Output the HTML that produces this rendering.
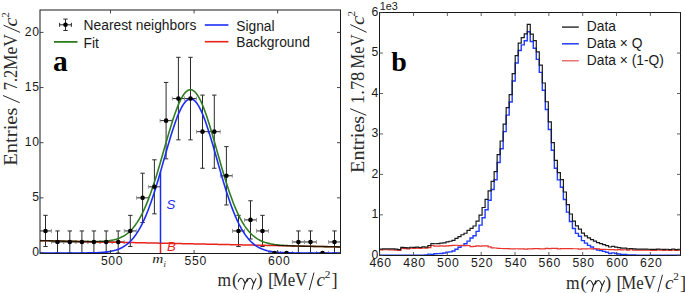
<!DOCTYPE html>
<html><head><meta charset="utf-8"><style>
html,body{margin:0;padding:0;background:#fff;width:685px;height:293px;overflow:hidden;}
body{position:relative;font-family:"Liberation Sans", sans-serif;}
</style></head><body>
<svg width="685" height="293" viewBox="0 0 685 293" style="position:absolute;left:0;top:0">
<defs><clipPath id="cl"><rect x="40.0" y="10.0" width="300.5" height="243.5"/></clipPath>
<clipPath id="cr"><rect x="379.5" y="12.5" width="301.0" height="243.0"/></clipPath></defs>
<g clip-path="url(#cl)" stroke="#2a2a2a" stroke-width="1" fill="none">
<line x1="39.50" y1="230.94" x2="51.50" y2="230.94"/>
<line x1="39.50" y1="228.94" x2="39.50" y2="232.94" stroke="#888" stroke-width="0.8"/>
<line x1="51.50" y1="228.94" x2="51.50" y2="232.94" stroke="#888" stroke-width="0.8"/>
<line x1="45.50" y1="215.34" x2="45.50" y2="246.54"/>
<line x1="43.30" y1="215.34" x2="47.70" y2="215.34"/>
<line x1="43.30" y1="246.54" x2="47.70" y2="246.54"/>
<line x1="51.50" y1="241.97" x2="63.50" y2="241.97"/>
<line x1="51.50" y1="239.97" x2="51.50" y2="243.97" stroke="#888" stroke-width="0.8"/>
<line x1="63.50" y1="239.97" x2="63.50" y2="243.97" stroke="#888" stroke-width="0.8"/>
<line x1="57.50" y1="230.94" x2="57.50" y2="253.00"/>
<line x1="55.30" y1="230.94" x2="59.70" y2="230.94"/>
<line x1="55.30" y1="253.00" x2="59.70" y2="253.00"/>
<line x1="63.80" y1="241.97" x2="75.80" y2="241.97"/>
<line x1="63.80" y1="239.97" x2="63.80" y2="243.97" stroke="#888" stroke-width="0.8"/>
<line x1="75.80" y1="239.97" x2="75.80" y2="243.97" stroke="#888" stroke-width="0.8"/>
<line x1="69.80" y1="230.94" x2="69.80" y2="253.00"/>
<line x1="67.60" y1="230.94" x2="72.00" y2="230.94"/>
<line x1="67.60" y1="253.00" x2="72.00" y2="253.00"/>
<line x1="75.90" y1="241.97" x2="87.90" y2="241.97"/>
<line x1="75.90" y1="239.97" x2="75.90" y2="243.97" stroke="#888" stroke-width="0.8"/>
<line x1="87.90" y1="239.97" x2="87.90" y2="243.97" stroke="#888" stroke-width="0.8"/>
<line x1="81.90" y1="230.94" x2="81.90" y2="253.00"/>
<line x1="79.70" y1="230.94" x2="84.10" y2="230.94"/>
<line x1="79.70" y1="253.00" x2="84.10" y2="253.00"/>
<line x1="87.90" y1="241.97" x2="99.90" y2="241.97"/>
<line x1="87.90" y1="239.97" x2="87.90" y2="243.97" stroke="#888" stroke-width="0.8"/>
<line x1="99.90" y1="239.97" x2="99.90" y2="243.97" stroke="#888" stroke-width="0.8"/>
<line x1="93.90" y1="230.94" x2="93.90" y2="253.00"/>
<line x1="91.70" y1="230.94" x2="96.10" y2="230.94"/>
<line x1="91.70" y1="253.00" x2="96.10" y2="253.00"/>
<line x1="100.20" y1="241.97" x2="112.20" y2="241.97"/>
<line x1="100.20" y1="239.97" x2="100.20" y2="243.97" stroke="#888" stroke-width="0.8"/>
<line x1="112.20" y1="239.97" x2="112.20" y2="243.97" stroke="#888" stroke-width="0.8"/>
<line x1="106.20" y1="230.94" x2="106.20" y2="253.00"/>
<line x1="104.00" y1="230.94" x2="108.40" y2="230.94"/>
<line x1="104.00" y1="253.00" x2="108.40" y2="253.00"/>
<line x1="112.20" y1="241.97" x2="124.20" y2="241.97"/>
<line x1="112.20" y1="239.97" x2="112.20" y2="243.97" stroke="#888" stroke-width="0.8"/>
<line x1="124.20" y1="239.97" x2="124.20" y2="243.97" stroke="#888" stroke-width="0.8"/>
<line x1="118.20" y1="230.94" x2="118.20" y2="253.00"/>
<line x1="116.00" y1="230.94" x2="120.40" y2="230.94"/>
<line x1="116.00" y1="253.00" x2="120.40" y2="253.00"/>
<line x1="124.30" y1="230.94" x2="136.30" y2="230.94"/>
<line x1="124.30" y1="228.94" x2="124.30" y2="232.94" stroke="#888" stroke-width="0.8"/>
<line x1="136.30" y1="228.94" x2="136.30" y2="232.94" stroke="#888" stroke-width="0.8"/>
<line x1="130.30" y1="215.34" x2="130.30" y2="246.54"/>
<line x1="128.10" y1="215.34" x2="132.50" y2="215.34"/>
<line x1="128.10" y1="246.54" x2="132.50" y2="246.54"/>
<line x1="136.60" y1="197.85" x2="148.60" y2="197.85"/>
<line x1="136.60" y1="195.85" x2="136.60" y2="199.85" stroke="#888" stroke-width="0.8"/>
<line x1="148.60" y1="195.85" x2="148.60" y2="199.85" stroke="#888" stroke-width="0.8"/>
<line x1="142.60" y1="173.19" x2="142.60" y2="222.51"/>
<line x1="140.40" y1="173.19" x2="144.80" y2="173.19"/>
<line x1="140.40" y1="222.51" x2="144.80" y2="222.51"/>
<line x1="148.40" y1="186.82" x2="160.40" y2="186.82"/>
<line x1="148.40" y1="184.82" x2="148.40" y2="188.82" stroke="#888" stroke-width="0.8"/>
<line x1="160.40" y1="184.82" x2="160.40" y2="188.82" stroke="#888" stroke-width="0.8"/>
<line x1="154.40" y1="159.80" x2="154.40" y2="213.84"/>
<line x1="152.20" y1="159.80" x2="156.60" y2="159.80"/>
<line x1="152.20" y1="213.84" x2="156.60" y2="213.84"/>
<line x1="160.10" y1="120.64" x2="172.10" y2="120.64"/>
<line x1="160.10" y1="118.64" x2="160.10" y2="122.64" stroke="#888" stroke-width="0.8"/>
<line x1="172.10" y1="118.64" x2="172.10" y2="122.64" stroke="#888" stroke-width="0.8"/>
<line x1="166.10" y1="82.43" x2="166.10" y2="158.85"/>
<line x1="163.90" y1="82.43" x2="168.30" y2="82.43"/>
<line x1="163.90" y1="158.85" x2="168.30" y2="158.85"/>
<line x1="172.40" y1="98.58" x2="184.40" y2="98.58"/>
<line x1="172.40" y1="96.58" x2="172.40" y2="100.58" stroke="#888" stroke-width="0.8"/>
<line x1="184.40" y1="96.58" x2="184.40" y2="100.58" stroke="#888" stroke-width="0.8"/>
<line x1="178.40" y1="57.31" x2="178.40" y2="139.85"/>
<line x1="176.20" y1="57.31" x2="180.60" y2="57.31"/>
<line x1="176.20" y1="139.85" x2="180.60" y2="139.85"/>
<line x1="184.50" y1="98.58" x2="196.50" y2="98.58"/>
<line x1="184.50" y1="96.58" x2="184.50" y2="100.58" stroke="#888" stroke-width="0.8"/>
<line x1="196.50" y1="96.58" x2="196.50" y2="100.58" stroke="#888" stroke-width="0.8"/>
<line x1="190.50" y1="57.31" x2="190.50" y2="139.85"/>
<line x1="188.30" y1="57.31" x2="192.70" y2="57.31"/>
<line x1="188.30" y1="139.85" x2="192.70" y2="139.85"/>
<line x1="196.50" y1="131.67" x2="208.50" y2="131.67"/>
<line x1="196.50" y1="129.67" x2="196.50" y2="133.67" stroke="#888" stroke-width="0.8"/>
<line x1="208.50" y1="129.67" x2="208.50" y2="133.67" stroke="#888" stroke-width="0.8"/>
<line x1="202.50" y1="95.09" x2="202.50" y2="168.25"/>
<line x1="200.30" y1="95.09" x2="204.70" y2="95.09"/>
<line x1="200.30" y1="168.25" x2="204.70" y2="168.25"/>
<line x1="208.30" y1="131.67" x2="220.30" y2="131.67"/>
<line x1="208.30" y1="129.67" x2="208.30" y2="133.67" stroke="#888" stroke-width="0.8"/>
<line x1="220.30" y1="129.67" x2="220.30" y2="133.67" stroke="#888" stroke-width="0.8"/>
<line x1="214.30" y1="95.09" x2="214.30" y2="168.25"/>
<line x1="212.10" y1="95.09" x2="216.50" y2="95.09"/>
<line x1="212.10" y1="168.25" x2="216.50" y2="168.25"/>
<line x1="220.40" y1="175.79" x2="232.40" y2="175.79"/>
<line x1="220.40" y1="173.79" x2="220.40" y2="177.79" stroke="#888" stroke-width="0.8"/>
<line x1="232.40" y1="173.79" x2="232.40" y2="177.79" stroke="#888" stroke-width="0.8"/>
<line x1="226.40" y1="146.61" x2="226.40" y2="204.97"/>
<line x1="224.20" y1="146.61" x2="228.60" y2="146.61"/>
<line x1="224.20" y1="204.97" x2="228.60" y2="204.97"/>
<line x1="232.50" y1="230.94" x2="244.50" y2="230.94"/>
<line x1="232.50" y1="228.94" x2="232.50" y2="232.94" stroke="#888" stroke-width="0.8"/>
<line x1="244.50" y1="228.94" x2="244.50" y2="232.94" stroke="#888" stroke-width="0.8"/>
<line x1="238.50" y1="215.34" x2="238.50" y2="246.54"/>
<line x1="236.30" y1="215.34" x2="240.70" y2="215.34"/>
<line x1="236.30" y1="246.54" x2="240.70" y2="246.54"/>
<line x1="244.50" y1="219.91" x2="256.50" y2="219.91"/>
<line x1="244.50" y1="217.91" x2="244.50" y2="221.91" stroke="#888" stroke-width="0.8"/>
<line x1="256.50" y1="217.91" x2="256.50" y2="221.91" stroke="#888" stroke-width="0.8"/>
<line x1="250.50" y1="200.81" x2="250.50" y2="239.01"/>
<line x1="248.30" y1="200.81" x2="252.70" y2="200.81"/>
<line x1="248.30" y1="239.01" x2="252.70" y2="239.01"/>
<line x1="256.50" y1="230.94" x2="268.50" y2="230.94"/>
<line x1="256.50" y1="228.94" x2="256.50" y2="232.94" stroke="#888" stroke-width="0.8"/>
<line x1="268.50" y1="228.94" x2="268.50" y2="232.94" stroke="#888" stroke-width="0.8"/>
<line x1="262.50" y1="215.34" x2="262.50" y2="246.54"/>
<line x1="260.30" y1="215.34" x2="264.70" y2="215.34"/>
<line x1="260.30" y1="246.54" x2="264.70" y2="246.54"/>
<line x1="268.50" y1="253.00" x2="280.50" y2="253.00"/>
<line x1="268.50" y1="251.00" x2="268.50" y2="255.00" stroke="#888" stroke-width="0.8"/>
<line x1="280.50" y1="251.00" x2="280.50" y2="255.00" stroke="#888" stroke-width="0.8"/>
<line x1="280.50" y1="253.00" x2="292.50" y2="253.00"/>
<line x1="280.50" y1="251.00" x2="280.50" y2="255.00" stroke="#888" stroke-width="0.8"/>
<line x1="292.50" y1="251.00" x2="292.50" y2="255.00" stroke="#888" stroke-width="0.8"/>
<line x1="292.40" y1="241.97" x2="304.40" y2="241.97"/>
<line x1="292.40" y1="239.97" x2="292.40" y2="243.97" stroke="#888" stroke-width="0.8"/>
<line x1="304.40" y1="239.97" x2="304.40" y2="243.97" stroke="#888" stroke-width="0.8"/>
<line x1="298.40" y1="230.94" x2="298.40" y2="253.00"/>
<line x1="296.20" y1="230.94" x2="300.60" y2="230.94"/>
<line x1="296.20" y1="253.00" x2="300.60" y2="253.00"/>
<line x1="304.50" y1="241.97" x2="316.50" y2="241.97"/>
<line x1="304.50" y1="239.97" x2="304.50" y2="243.97" stroke="#888" stroke-width="0.8"/>
<line x1="316.50" y1="239.97" x2="316.50" y2="243.97" stroke="#888" stroke-width="0.8"/>
<line x1="310.50" y1="230.94" x2="310.50" y2="253.00"/>
<line x1="308.30" y1="230.94" x2="312.70" y2="230.94"/>
<line x1="308.30" y1="253.00" x2="312.70" y2="253.00"/>
<line x1="316.50" y1="253.00" x2="328.50" y2="253.00"/>
<line x1="316.50" y1="251.00" x2="316.50" y2="255.00" stroke="#888" stroke-width="0.8"/>
<line x1="328.50" y1="251.00" x2="328.50" y2="255.00" stroke="#888" stroke-width="0.8"/>
<line x1="328.50" y1="241.97" x2="340.50" y2="241.97"/>
<line x1="328.50" y1="239.97" x2="328.50" y2="243.97" stroke="#888" stroke-width="0.8"/>
<line x1="340.50" y1="239.97" x2="340.50" y2="243.97" stroke="#888" stroke-width="0.8"/>
<line x1="334.50" y1="230.94" x2="334.50" y2="253.00"/>
<line x1="332.30" y1="230.94" x2="336.70" y2="230.94"/>
<line x1="332.30" y1="253.00" x2="336.70" y2="253.00"/>
</g>
<g clip-path="url(#cl)" fill="none" stroke-linejoin="round">
<path d="M40.00,240.65 L41.00,240.67 L42.00,240.69 L43.01,240.71 L44.01,240.73 L45.01,240.75 L46.01,240.77 L47.01,240.79 L48.01,240.81 L49.02,240.84 L50.02,240.86 L51.02,240.88 L52.02,240.90 L53.02,240.92 L54.02,240.94 L55.02,240.96 L56.03,240.98 L57.03,241.00 L58.03,241.02 L59.03,241.05 L60.03,241.07 L61.03,241.09 L62.04,241.11 L63.04,241.13 L64.04,241.15 L65.04,241.17 L66.04,241.19 L67.05,241.21 L68.05,241.23 L69.05,241.26 L70.05,241.28 L71.05,241.30 L72.05,241.32 L73.06,241.34 L74.06,241.36 L75.06,241.38 L76.06,241.40 L77.06,241.42 L78.06,241.44 L79.06,241.47 L80.07,241.49 L81.07,241.51 L82.07,241.53 L83.07,241.55 L84.07,241.57 L85.08,241.59 L86.08,241.61 L87.08,241.63 L88.08,241.65 L89.08,241.68 L90.08,241.70 L91.09,241.72 L92.09,241.74 L93.09,241.76 L94.09,241.78 L95.09,241.80 L96.09,241.82 L97.09,241.84 L98.10,241.86 L99.10,241.88 L100.10,241.91 L101.10,241.93 L102.10,241.95 L103.10,241.97 L104.11,241.99 L105.11,242.01 L106.11,242.03 L107.11,242.05 L108.11,242.07 L109.11,242.09 L110.12,242.12 L111.12,242.14 L112.12,242.16 L113.12,242.18 L114.12,242.20 L115.12,242.22 L116.13,242.24 L117.13,242.26 L118.13,242.28 L119.13,242.30 L120.13,242.33 L121.14,242.35 L122.14,242.37 L123.14,242.39 L124.14,242.41 L125.14,242.43 L126.14,242.45 L127.14,242.47 L128.15,242.49 L129.15,242.51 L130.15,242.54 L131.15,242.56 L132.15,242.58 L133.16,242.60 L134.16,242.62 L135.16,242.64 L136.16,242.66 L137.16,242.68 L138.16,242.70 L139.17,242.72 L140.17,242.75 L141.17,242.77 L142.17,242.79 L143.17,242.81 L144.17,242.83 L145.18,242.85 L146.18,242.87 L147.18,242.89 L148.18,242.91 L149.18,242.93 L150.18,242.96 L151.19,242.98 L152.19,243.00 L153.19,243.02 L154.19,243.04 L155.19,243.06 L156.19,243.08 L157.19,243.10 L158.20,243.12 L159.20,243.14 L160.20,243.17 L161.20,243.19 L162.20,243.21 L163.20,243.23 L164.21,243.25 L165.21,243.27 L166.21,243.29 L167.21,243.31 L168.21,243.33 L169.22,243.35 L170.22,243.38 L171.22,243.40 L172.22,243.42 L173.22,243.44 L174.22,243.46 L175.22,243.48 L176.23,243.50 L177.23,243.52 L178.23,243.54 L179.23,243.56 L180.23,243.59 L181.24,243.61 L182.24,243.63 L183.24,243.65 L184.24,243.67 L185.24,243.69 L186.24,243.71 L187.25,243.73 L188.25,243.75 L189.25,243.77 L190.25,243.80 L191.25,243.82 L192.25,243.84 L193.25,243.86 L194.26,243.88 L195.26,243.90 L196.26,243.92 L197.26,243.94 L198.26,243.96 L199.26,243.98 L200.27,244.01 L201.27,244.03 L202.27,244.05 L203.27,244.07 L204.27,244.09 L205.28,244.11 L206.28,244.13 L207.28,244.15 L208.28,244.17 L209.28,244.19 L210.28,244.22 L211.28,244.24 L212.29,244.26 L213.29,244.28 L214.29,244.30 L215.29,244.32 L216.29,244.34 L217.29,244.36 L218.30,244.38 L219.30,244.40 L220.30,244.42 L221.30,244.45 L222.30,244.47 L223.31,244.49 L224.31,244.51 L225.31,244.53 L226.31,244.55 L227.31,244.57 L228.31,244.59 L229.31,244.61 L230.32,244.63 L231.32,244.66 L232.32,244.68 L233.32,244.70 L234.32,244.72 L235.32,244.74 L236.33,244.76 L237.33,244.78 L238.33,244.80 L239.33,244.82 L240.33,244.84 L241.34,244.87 L242.34,244.89 L243.34,244.91 L244.34,244.93 L245.34,244.95 L246.34,244.97 L247.34,244.99 L248.35,245.01 L249.35,245.03 L250.35,245.05 L251.35,245.08 L252.35,245.10 L253.35,245.12 L254.36,245.14 L255.36,245.16 L256.36,245.18 L257.36,245.20 L258.36,245.22 L259.37,245.24 L260.37,245.26 L261.37,245.29 L262.37,245.31 L263.37,245.33 L264.37,245.35 L265.38,245.37 L266.38,245.39 L267.38,245.41 L268.38,245.43 L269.38,245.45 L270.38,245.47 L271.38,245.50 L272.39,245.52 L273.39,245.54 L274.39,245.56 L275.39,245.58 L276.39,245.60 L277.39,245.62 L278.40,245.64 L279.40,245.66 L280.40,245.68 L281.40,245.71 L282.40,245.73 L283.40,245.75 L284.41,245.77 L285.41,245.79 L286.41,245.81 L287.41,245.83 L288.41,245.85 L289.41,245.87 L290.42,245.89 L291.42,245.92 L292.42,245.94 L293.42,245.96 L294.42,245.98 L295.43,246.00 L296.43,246.02 L297.43,246.04 L298.43,246.06 L299.43,246.08 L300.43,246.10 L301.44,246.13 L302.44,246.15 L303.44,246.17 L304.44,246.19 L305.44,246.21 L306.44,246.23 L307.44,246.25 L308.45,246.27 L309.45,246.29 L310.45,246.31 L311.45,246.34 L312.45,246.36 L313.45,246.38 L314.46,246.40 L315.46,246.42 L316.46,246.44 L317.46,246.46 L318.46,246.48 L319.46,246.50 L320.47,246.52 L321.47,246.55 L322.47,246.57 L323.47,246.59 L324.47,246.61 L325.48,246.63 L326.48,246.65 L327.48,246.67 L328.48,246.69 L329.48,246.71 L330.48,246.73 L331.49,246.76 L332.49,246.78 L333.49,246.80 L334.49,246.82 L335.49,246.84 L336.49,246.86 L337.50,246.88 L338.50,246.90 L339.50,246.92 L340.50,246.94" stroke="#e8231c" stroke-width="1.5"/>
<path d="M40.00,253.00 L41.00,253.00 L42.00,253.00 L43.01,253.00 L44.01,253.00 L45.01,253.00 L46.01,253.00 L47.01,253.00 L48.01,253.00 L49.02,253.00 L50.02,253.00 L51.02,253.00 L52.02,253.00 L53.02,253.00 L54.02,253.00 L55.02,253.00 L56.03,253.00 L57.03,253.00 L58.03,253.00 L59.03,253.00 L60.03,253.00 L61.03,253.00 L62.04,253.00 L63.04,253.00 L64.04,253.00 L65.04,253.00 L66.04,253.00 L67.05,253.00 L68.05,253.00 L69.05,253.00 L70.05,252.99 L71.05,252.99 L72.05,252.99 L73.06,252.99 L74.06,252.99 L75.06,252.99 L76.06,252.99 L77.06,252.98 L78.06,252.98 L79.06,252.98 L80.07,252.97 L81.07,252.97 L82.07,252.96 L83.07,252.96 L84.07,252.95 L85.08,252.94 L86.08,252.93 L87.08,252.92 L88.08,252.91 L89.08,252.90 L90.08,252.88 L91.09,252.86 L92.09,252.84 L93.09,252.82 L94.09,252.79 L95.09,252.76 L96.09,252.73 L97.09,252.69 L98.10,252.65 L99.10,252.60 L100.10,252.54 L101.10,252.48 L102.10,252.41 L103.10,252.33 L104.11,252.24 L105.11,252.14 L106.11,252.03 L107.11,251.91 L108.11,251.77 L109.11,251.62 L110.12,251.45 L111.12,251.27 L112.12,251.06 L113.12,250.83 L114.12,250.58 L115.12,250.30 L116.13,250.00 L117.13,249.66 L118.13,249.30 L119.13,248.90 L120.13,248.46 L121.14,247.99 L122.14,247.47 L123.14,246.91 L124.14,246.30 L125.14,245.64 L126.14,244.93 L127.14,244.16 L128.15,243.33 L129.15,242.43 L130.15,241.48 L131.15,240.45 L132.15,239.35 L133.16,238.18 L134.16,236.93 L135.16,235.59 L136.16,234.18 L137.16,232.67 L138.16,231.08 L139.17,229.40 L140.17,227.63 L141.17,225.76 L142.17,223.79 L143.17,221.73 L144.17,219.57 L145.18,217.31 L146.18,214.95 L147.18,212.50 L148.18,209.95 L149.18,207.30 L150.18,204.56 L151.19,201.73 L152.19,198.82 L153.19,195.81 L154.19,192.73 L155.19,189.57 L156.19,186.34 L157.19,183.05 L158.20,179.70 L159.20,176.30 L160.20,172.85 L161.20,169.37 L162.20,165.87 L163.20,162.34 L164.21,158.81 L165.21,155.28 L166.21,151.76 L167.21,148.27 L168.21,144.81 L169.22,141.40 L170.22,138.04 L171.22,134.75 L172.22,131.54 L173.22,128.42 L174.22,125.40 L175.22,122.50 L176.23,119.72 L177.23,117.07 L178.23,114.57 L179.23,112.23 L180.23,110.05 L181.24,108.05 L182.24,106.22 L183.24,104.59 L184.24,103.15 L185.24,101.91 L186.24,100.89 L187.25,100.07 L188.25,99.47 L189.25,99.08 L190.25,98.92 L191.25,98.97 L192.25,99.25 L193.25,99.74 L194.26,100.45 L195.26,101.38 L196.26,102.51 L197.26,103.85 L198.26,105.38 L199.26,107.11 L200.27,109.03 L201.27,111.12 L202.27,113.38 L203.27,115.81 L204.27,118.38 L205.28,121.09 L206.28,123.94 L207.28,126.90 L208.28,129.97 L209.28,133.13 L210.28,136.39 L211.28,139.71 L212.29,143.10 L213.29,146.54 L214.29,150.02 L215.29,153.52 L216.29,157.05 L217.29,160.58 L218.30,164.11 L219.30,167.63 L220.30,171.12 L221.30,174.58 L222.30,178.01 L223.31,181.39 L224.31,184.71 L225.31,187.97 L226.31,191.16 L227.31,194.28 L228.31,197.33 L229.31,200.29 L230.32,203.16 L231.32,205.95 L232.32,208.64 L233.32,211.24 L234.32,213.74 L235.32,216.15 L236.33,218.45 L237.33,220.66 L238.33,222.77 L239.33,224.79 L240.33,226.70 L241.34,228.53 L242.34,230.25 L243.34,231.89 L244.34,233.44 L245.34,234.90 L246.34,236.27 L247.34,237.56 L248.35,238.77 L249.35,239.91 L250.35,240.97 L251.35,241.97 L252.35,242.89 L253.35,243.75 L254.36,244.55 L255.36,245.29 L256.36,245.98 L257.36,246.61 L258.36,247.20 L259.37,247.74 L260.37,248.23 L261.37,248.69 L262.37,249.10 L263.37,249.49 L264.37,249.84 L265.38,250.15 L266.38,250.44 L267.38,250.71 L268.38,250.95 L269.38,251.16 L270.38,251.36 L271.38,251.54 L272.39,251.70 L273.39,251.84 L274.39,251.97 L275.39,252.09 L276.39,252.19 L277.39,252.29 L278.40,252.37 L279.40,252.45 L280.40,252.51 L281.40,252.57 L282.40,252.62 L283.40,252.67 L284.41,252.71 L285.41,252.75 L286.41,252.78 L287.41,252.81 L288.41,252.83 L289.41,252.85 L290.42,252.87 L291.42,252.89 L292.42,252.91 L293.42,252.92 L294.42,252.93 L295.43,252.94 L296.43,252.95 L297.43,252.96 L298.43,252.96 L299.43,252.97 L300.43,252.97 L301.44,252.98 L302.44,252.98 L303.44,252.98 L304.44,252.99 L305.44,252.99 L306.44,252.99 L307.44,252.99 L308.45,252.99 L309.45,252.99 L310.45,252.99 L311.45,253.00 L312.45,253.00 L313.45,253.00 L314.46,253.00 L315.46,253.00 L316.46,253.00 L317.46,253.00 L318.46,253.00 L319.46,253.00 L320.47,253.00 L321.47,253.00 L322.47,253.00 L323.47,253.00 L324.47,253.00 L325.48,253.00 L326.48,253.00 L327.48,253.00 L328.48,253.00 L329.48,253.00 L330.48,253.00 L331.49,253.00 L332.49,253.00 L333.49,253.00 L334.49,253.00 L335.49,253.00 L336.49,253.00 L337.50,253.00 L338.50,253.00 L339.50,253.00 L340.50,253.00" stroke="#1a2cf5" stroke-width="1.6"/>
<path d="M40.00,240.65 L41.00,240.67 L42.00,240.69 L43.01,240.71 L44.01,240.73 L45.01,240.75 L46.01,240.77 L47.01,240.79 L48.01,240.81 L49.02,240.84 L50.02,240.86 L51.02,240.88 L52.02,240.90 L53.02,240.92 L54.02,240.94 L55.02,240.96 L56.03,240.98 L57.03,241.00 L58.03,241.02 L59.03,241.04 L60.03,241.07 L61.03,241.09 L62.04,241.11 L63.04,241.13 L64.04,241.15 L65.04,241.17 L66.04,241.19 L67.05,241.21 L68.05,241.23 L69.05,241.25 L70.05,241.27 L71.05,241.29 L72.05,241.31 L73.06,241.33 L74.06,241.35 L75.06,241.37 L76.06,241.39 L77.06,241.41 L78.06,241.43 L79.06,241.44 L80.07,241.46 L81.07,241.48 L82.07,241.49 L83.07,241.51 L84.07,241.52 L85.08,241.53 L86.08,241.55 L87.08,241.56 L88.08,241.57 L89.08,241.57 L90.08,241.58 L91.09,241.58 L92.09,241.58 L93.09,241.58 L94.09,241.57 L95.09,241.56 L96.09,241.55 L97.09,241.53 L98.10,241.51 L99.10,241.48 L100.10,241.45 L101.10,241.41 L102.10,241.36 L103.10,241.30 L104.11,241.23 L105.11,241.15 L106.11,241.06 L107.11,240.96 L108.11,240.85 L109.11,240.72 L110.12,240.57 L111.12,240.40 L112.12,240.22 L113.12,240.01 L114.12,239.78 L115.12,239.52 L116.13,239.24 L117.13,238.93 L118.13,238.58 L119.13,238.20 L120.13,237.79 L121.14,237.34 L122.14,236.84 L123.14,236.30 L124.14,235.71 L125.14,235.07 L126.14,234.38 L127.14,233.63 L128.15,232.82 L129.15,231.95 L130.15,231.01 L131.15,230.01 L132.15,228.93 L133.16,227.78 L134.16,226.54 L135.16,225.23 L136.16,223.84 L137.16,222.36 L138.16,220.79 L139.17,219.13 L140.17,217.37 L141.17,215.52 L142.17,213.58 L143.17,211.54 L144.17,209.40 L145.18,207.16 L146.18,204.83 L147.18,202.39 L148.18,199.86 L149.18,197.24 L150.18,194.52 L151.19,191.71 L152.19,188.81 L153.19,185.83 L154.19,182.77 L155.19,179.63 L156.19,176.43 L157.19,173.15 L158.20,169.82 L159.20,166.44 L160.20,163.02 L161.20,159.56 L162.20,156.07 L163.20,152.57 L164.21,149.06 L165.21,145.55 L166.21,142.06 L167.21,138.58 L168.21,135.14 L169.22,131.75 L170.22,128.41 L171.22,125.14 L172.22,121.95 L173.22,118.86 L174.22,115.86 L175.22,112.98 L176.23,110.22 L177.23,107.59 L178.23,105.12 L179.23,102.79 L180.23,100.64 L181.24,98.65 L182.24,96.85 L183.24,95.24 L184.24,93.82 L185.24,92.60 L186.24,91.60 L187.25,90.80 L188.25,90.22 L189.25,89.86 L190.25,89.71 L191.25,89.79 L192.25,90.08 L193.25,90.60 L194.26,91.33 L195.26,92.28 L196.26,93.43 L197.26,94.79 L198.26,96.35 L199.26,98.10 L200.27,100.03 L201.27,102.15 L202.27,104.43 L203.27,106.87 L204.27,109.47 L205.28,112.20 L206.28,115.07 L207.28,118.05 L208.28,121.14 L209.28,124.33 L210.28,127.60 L211.28,130.95 L212.29,134.36 L213.29,137.82 L214.29,141.32 L215.29,144.84 L216.29,148.39 L217.29,151.94 L218.30,155.49 L219.30,159.03 L220.30,162.55 L221.30,166.03 L222.30,169.48 L223.31,172.87 L224.31,176.22 L225.31,179.50 L226.31,182.71 L227.31,185.86 L228.31,188.92 L229.31,191.90 L230.32,194.80 L231.32,197.60 L232.32,200.32 L233.32,202.94 L234.32,205.46 L235.32,207.89 L236.33,210.22 L237.33,212.45 L238.33,214.58 L239.33,216.61 L240.33,218.55 L241.34,220.39 L242.34,222.14 L243.34,223.80 L244.34,225.37 L245.34,226.85 L246.34,228.24 L247.34,229.55 L248.35,230.79 L249.35,231.94 L250.35,233.03 L251.35,234.04 L252.35,234.99 L253.35,235.87 L254.36,236.69 L255.36,237.45 L256.36,238.16 L257.36,238.81 L258.36,239.42 L259.37,239.98 L260.37,240.50 L261.37,240.97 L262.37,241.41 L263.37,241.81 L264.37,242.18 L265.38,242.52 L266.38,242.83 L267.38,243.12 L268.38,243.38 L269.38,243.62 L270.38,243.84 L271.38,244.03 L272.39,244.22 L273.39,244.38 L274.39,244.53 L275.39,244.67 L276.39,244.79 L277.39,244.91 L278.40,245.01 L279.40,245.11 L280.40,245.20 L281.40,245.28 L282.40,245.35 L283.40,245.42 L284.41,245.48 L285.41,245.54 L286.41,245.59 L287.41,245.64 L288.41,245.69 L289.41,245.73 L290.42,245.77 L291.42,245.81 L292.42,245.84 L293.42,245.88 L294.42,245.91 L295.43,245.94 L296.43,245.97 L297.43,246.00 L298.43,246.02 L299.43,246.05 L300.43,246.08 L301.44,246.10 L302.44,246.13 L303.44,246.15 L304.44,246.17 L305.44,246.20 L306.44,246.22 L307.44,246.24 L308.45,246.26 L309.45,246.29 L310.45,246.31 L311.45,246.33 L312.45,246.35 L313.45,246.37 L314.46,246.40 L315.46,246.42 L316.46,246.44 L317.46,246.46 L318.46,246.48 L319.46,246.50 L320.47,246.52 L321.47,246.54 L322.47,246.57 L323.47,246.59 L324.47,246.61 L325.48,246.63 L326.48,246.65 L327.48,246.67 L328.48,246.69 L329.48,246.71 L330.48,246.73 L331.49,246.75 L332.49,246.78 L333.49,246.80 L334.49,246.82 L335.49,246.84 L336.49,246.86 L337.50,246.88 L338.50,246.90 L339.50,246.92 L340.50,246.94" stroke="#2f7d20" stroke-width="1.6" style="mix-blend-mode:multiply"/>
<line x1="160.5" y1="171.81" x2="160.5" y2="243.17" stroke="#1a2cf5" stroke-width="1.5"/>
<line x1="160.5" y1="243.17" x2="160.5" y2="253.5" stroke="#e8231c" stroke-width="1.5"/>
</g>
<g clip-path="url(#cl)" fill="#000">
<circle cx="45.50" cy="230.94" r="2.3"/>
<circle cx="57.50" cy="241.97" r="2.3"/>
<circle cx="69.80" cy="241.97" r="2.3"/>
<circle cx="81.90" cy="241.97" r="2.3"/>
<circle cx="93.90" cy="241.97" r="2.3"/>
<circle cx="106.20" cy="241.97" r="2.3"/>
<circle cx="118.20" cy="241.97" r="2.3"/>
<circle cx="130.30" cy="230.94" r="2.3"/>
<circle cx="142.60" cy="197.85" r="2.3"/>
<circle cx="154.40" cy="186.82" r="2.3"/>
<circle cx="166.10" cy="120.64" r="2.3"/>
<circle cx="178.40" cy="98.58" r="2.3"/>
<circle cx="190.50" cy="98.58" r="2.3"/>
<circle cx="202.50" cy="131.67" r="2.3"/>
<circle cx="214.30" cy="131.67" r="2.3"/>
<circle cx="226.40" cy="175.79" r="2.3"/>
<circle cx="238.50" cy="230.94" r="2.3"/>
<circle cx="250.50" cy="219.91" r="2.3"/>
<circle cx="262.50" cy="230.94" r="2.3"/>
<circle cx="274.50" cy="253.00" r="2.3"/>
<circle cx="286.50" cy="253.00" r="2.3"/>
<circle cx="298.40" cy="241.97" r="2.3"/>
<circle cx="310.50" cy="241.97" r="2.3"/>
<circle cx="322.50" cy="253.00" r="2.3"/>
<circle cx="334.50" cy="241.97" r="2.3"/>
</g>
<rect x="40.0" y="10.0" width="300.5" height="243.5" fill="none" stroke="#1a1a1a" stroke-width="1"/>
<g stroke="#333" stroke-width="0.9">
<line x1="40.0" y1="253.00" x2="43.5" y2="253.00"/>
<line x1="340.5" y1="253.00" x2="337.0" y2="253.00"/>
<line x1="40.0" y1="197.85" x2="43.5" y2="197.85"/>
<line x1="340.5" y1="197.85" x2="337.0" y2="197.85"/>
<line x1="40.0" y1="142.70" x2="43.5" y2="142.70"/>
<line x1="340.5" y1="142.70" x2="337.0" y2="142.70"/>
<line x1="40.0" y1="87.55" x2="43.5" y2="87.55"/>
<line x1="340.5" y1="87.55" x2="337.0" y2="87.55"/>
<line x1="40.0" y1="32.40" x2="43.5" y2="32.40"/>
<line x1="340.5" y1="32.40" x2="337.0" y2="32.40"/>
<line x1="110.50" y1="253.5" x2="110.50" y2="250.0"/>
<line x1="110.50" y1="10.0" x2="110.50" y2="13.5"/>
<line x1="194.07" y1="253.5" x2="194.07" y2="250.0"/>
<line x1="194.07" y1="10.0" x2="194.07" y2="13.5"/>
<line x1="277.65" y1="253.5" x2="277.65" y2="250.0"/>
<line x1="277.65" y1="10.0" x2="277.65" y2="13.5"/>
</g>
<g font-family='"Liberation Sans", sans-serif' font-size="12.2" fill="#1a1a1a" letter-spacing="0.7">
<text x="39.7" y="256.35" text-anchor="end">0</text>
<text x="39.7" y="201.20" text-anchor="end">5</text>
<text x="39.7" y="146.05" text-anchor="end">10</text>
<text x="39.7" y="90.90" text-anchor="end">15</text>
<text x="39.7" y="35.75" text-anchor="end">20</text>
<text x="112.10" y="265.1" text-anchor="middle">500</text>
<text x="195.67" y="265.1" text-anchor="middle">550</text>
<text x="279.25" y="265.1" text-anchor="middle">600</text>
</g>
<text x="152.3" y="263.4" font-family='"Liberation Serif", serif' font-style="italic" font-size="12.5" textLength="11" lengthAdjust="spacingAndGlyphs" fill="#1a1a1a">m</text>
<text x="163.4" y="266.5" font-family='"Liberation Serif", serif' font-style="italic" font-size="8.6" fill="#1a1a1a">i</text>
<text x="166.4" y="209" font-family='"Liberation Sans", sans-serif' font-style="italic" font-size="13.2" fill="#1a2cf5">S</text>
<text x="166.9" y="251.4" font-family='"Liberation Sans", sans-serif' font-style="italic" font-size="13.2" fill="#e8231c">B</text>
<text x="53" y="71.3" font-family='"Liberation Serif", serif' font-weight="bold" font-size="29.5" fill="#000">a</text>
<g stroke="#2a2a2a" stroke-width="1">
<line x1="59.6" y1="24.8" x2="71.4" y2="24.8"/>
<line x1="65.5" y1="19.1" x2="65.5" y2="30.5"/>
<line x1="63.3" y1="19.1" x2="67.7" y2="19.1"/>
<line x1="63.3" y1="30.5" x2="67.7" y2="30.5"/>
<line x1="59.6" y1="22.8" x2="59.6" y2="26.8"/>
<line x1="71.4" y1="22.8" x2="71.4" y2="26.8"/>
</g>
<circle cx="65.5" cy="24.8" r="2.3" fill="#000"/>
<line x1="54" y1="41.9" x2="77.5" y2="41.9" stroke="#2f7d20" stroke-width="1.8"/>
<line x1="204.8" y1="25" x2="228.4" y2="25" stroke="#1a2cf5" stroke-width="1.6"/>
<line x1="204.8" y1="41.7" x2="228.4" y2="41.7" stroke="#e8231c" stroke-width="1.6"/>
<g font-family='"Liberation Sans", sans-serif' font-size="13.8" fill="#1a1a1a">
<text x="83.6" y="30.2">Nearest neighbors</text>
<text x="83.6" y="47.6">Fit</text>
<text x="236.2" y="30.6">Signal</text>
<text x="236.2" y="46.9">Background</text>
</g>
<text x="217.40" y="286.3" font-family='"Liberation Serif", serif' font-size='18.5' fill='#2b2b2b' textLength="13.6" lengthAdjust="spacingAndGlyphs">m</text>
<text x="232.05" y="286.3" font-family='"Liberation Serif", serif' font-size='18.5' fill='#2b2b2b'>(</text>
<path transform="translate(238.00,286.3)" d="M0.2,-4.6 C1,-7 2.4,-8.1 3.5,-8.0 C5,-7.9 6,-5.5 6.9,-3.0 M9.4,-7.7 C8.5,-5.5 7.3,-3.5 6.6,-1.5 C6,0.5 5.6,1.8 5.4,2.8" fill="none" stroke="#1a1a1a" stroke-width="1.05" stroke-linecap="round"/>
<path transform="translate(246.60,286.3)" d="M0.2,-4.6 C1,-7 2.4,-8.1 3.5,-8.0 C5,-7.9 6,-5.5 6.9,-3.0 M9.4,-7.7 C8.5,-5.5 7.3,-3.5 6.6,-1.5 C6,0.5 5.6,1.8 5.4,2.8" fill="none" stroke="#1a1a1a" stroke-width="1.05" stroke-linecap="round"/>
<text x="256.50" y="286.3" font-family='"Liberation Serif", serif' font-size='18.5' fill='#2b2b2b'>)</text>
<text x="267.90" y="286.3" font-family='"Liberation Serif", serif' font-size='18.5' fill='#2b2b2b'>[</text>
<text x="272.70" y="286.3" font-family='"Liberation Serif", serif' font-size='18.5' fill='#2b2b2b' textLength="34.6" lengthAdjust="spacingAndGlyphs">MeV</text>
<line x1="309.30" y1="290.00" x2="314.00" y2="272.60" stroke="#1a1a1a" stroke-width="0.95"/>
<text x="316.50" y="286.3" font-family='"Liberation Serif", serif' font-size='18.5' fill='#2b2b2b' font-style="italic" textLength="8.4" lengthAdjust="spacingAndGlyphs">c</text>
<text x="324.80" y="278.00" font-family='"Liberation Serif", serif' font-size="11.2" fill="#1a1a1a">2</text>
<text x="331.55" y="286.3" font-family='"Liberation Serif", serif' font-size='18.5' fill='#2b2b2b'>]</text>
<text x="565.90" y="288.5" font-family='"Liberation Serif", serif' font-size='18.5' fill='#2b2b2b' textLength="13.6" lengthAdjust="spacingAndGlyphs">m</text>
<text x="580.55" y="288.5" font-family='"Liberation Serif", serif' font-size='18.5' fill='#2b2b2b'>(</text>
<path transform="translate(586.50,288.5)" d="M0.2,-4.6 C1,-7 2.4,-8.1 3.5,-8.0 C5,-7.9 6,-5.5 6.9,-3.0 M9.4,-7.7 C8.5,-5.5 7.3,-3.5 6.6,-1.5 C6,0.5 5.6,1.8 5.4,2.8" fill="none" stroke="#1a1a1a" stroke-width="1.05" stroke-linecap="round"/>
<path transform="translate(595.10,288.5)" d="M0.2,-4.6 C1,-7 2.4,-8.1 3.5,-8.0 C5,-7.9 6,-5.5 6.9,-3.0 M9.4,-7.7 C8.5,-5.5 7.3,-3.5 6.6,-1.5 C6,0.5 5.6,1.8 5.4,2.8" fill="none" stroke="#1a1a1a" stroke-width="1.05" stroke-linecap="round"/>
<text x="605.00" y="288.5" font-family='"Liberation Serif", serif' font-size='18.5' fill='#2b2b2b'>)</text>
<text x="616.40" y="288.5" font-family='"Liberation Serif", serif' font-size='18.5' fill='#2b2b2b'>[</text>
<text x="621.20" y="288.5" font-family='"Liberation Serif", serif' font-size='18.5' fill='#2b2b2b' textLength="34.6" lengthAdjust="spacingAndGlyphs">MeV</text>
<line x1="657.80" y1="292.20" x2="662.50" y2="274.80" stroke="#1a1a1a" stroke-width="0.95"/>
<text x="665.00" y="288.5" font-family='"Liberation Serif", serif' font-size='18.5' fill='#2b2b2b' font-style="italic" textLength="8.4" lengthAdjust="spacingAndGlyphs">c</text>
<text x="673.30" y="280.20" font-family='"Liberation Serif", serif' font-size="11.2" fill="#1a1a1a">2</text>
<text x="680.05" y="288.5" font-family='"Liberation Serif", serif' font-size='18.5' fill='#2b2b2b'>]</text>
<g transform="translate(17.3,0) rotate(-90)" font-family='"Liberation Serif", serif' font-size="18.5" fill="#2b2b2b">
<text x="-165.70" y="0" textLength="58.10" lengthAdjust="spacingAndGlyphs">Entries</text>
<text x="-90.20" y="0" textLength="20.40" lengthAdjust="spacingAndGlyphs">7.2</text>
<text x="-70.10" y="0" textLength="36.00" lengthAdjust="spacingAndGlyphs">MeV</text>
<text x="-26.50" y="0" textLength="9.00" lengthAdjust="spacingAndGlyphs" font-style="italic">c</text>
<text x="-17.70" y="-8.6" font-size="11.2">2</text>
</g>
<line x1="19.7" y1="102.7" x2="3.0" y2="95.5" stroke="#1a1a1a" stroke-width="0.95"/>
<line x1="20.1" y1="32.4" x2="3.6" y2="25.2" stroke="#1a1a1a" stroke-width="0.95"/>
<g transform="translate(363.5,0) rotate(-90)" font-family='"Liberation Serif", serif' font-size="18.5" fill="#2b2b2b">
<text x="-172.90" y="0" textLength="57.10" lengthAdjust="spacingAndGlyphs">Entries</text>
<text x="-103.90" y="0" textLength="32.20" lengthAdjust="spacingAndGlyphs">1.78</text>
<text x="-68.40" y="0" textLength="34.00" lengthAdjust="spacingAndGlyphs">MeV</text>
<text x="-25.10" y="0" textLength="9.30" lengthAdjust="spacingAndGlyphs" font-style="italic">c</text>
<text x="-16.50" y="-8.6" font-size="11.2">2</text>
</g>
<line x1="366.3" y1="115.3" x2="350.2" y2="108.7" stroke="#1a1a1a" stroke-width="0.95"/>
<line x1="366.6" y1="32.3" x2="350.4" y2="24.6" stroke="#1a1a1a" stroke-width="0.95"/>
<g clip-path="url(#cr)" fill="none" stroke-linejoin="miter">
<path d="M379.70,255.30 L379.70,255.30 L382.71,255.30 L382.71,255.27 L385.72,255.27 L385.72,255.28 L388.73,255.28 L388.73,255.30 L391.74,255.30 L391.74,255.30 L394.76,255.30 L394.76,255.30 L397.77,255.30 L397.77,255.28 L400.78,255.28 L400.78,255.29 L403.79,255.29 L403.79,255.26 L406.80,255.26 L406.80,255.30 L409.81,255.30 L409.81,255.22 L412.82,255.22 L412.82,255.24 L415.83,255.24 L415.83,255.19 L418.85,255.19 L418.85,255.18 L421.86,255.18 L421.86,255.14 L424.87,255.14 L424.87,255.04 L427.88,255.04 L427.88,254.10 L430.89,254.10 L430.89,254.43 L433.90,254.43 L433.90,253.75 L436.91,253.75 L436.91,253.63 L439.92,253.63 L439.92,253.47 L442.94,253.47 L442.94,253.00 L445.95,253.00 L445.95,252.11 L448.96,252.11 L448.96,251.86 L451.97,251.86 L451.97,251.04 L454.98,251.04 L454.98,249.28 L457.99,249.28 L457.99,247.22 L461.00,247.22 L461.00,245.60 L464.01,245.60 L464.01,243.79 L467.03,243.79 L467.03,241.13 L470.04,241.13 L470.04,237.95 L473.05,237.95 L473.05,235.78 L476.06,235.78 L476.06,231.42 L479.07,231.42 L479.07,225.15 L482.08,225.15 L482.08,217.74 L485.09,217.74 L485.09,209.70 L488.10,209.70 L488.10,200.20 L491.12,200.20 L491.12,189.52 L494.13,189.52 L494.13,179.73 L497.14,179.73 L497.14,162.55 L500.15,162.55 L500.15,148.70 L503.16,148.70 L503.16,131.65 L506.17,131.65 L506.17,115.14 L509.18,115.14 L509.18,101.93 L512.19,101.93 L512.19,81.02 L515.21,81.02 L515.21,63.05 L518.22,63.05 L518.22,50.54 L521.23,50.54 L521.23,44.90 L524.24,44.90 L524.24,40.80 L527.25,40.80 L527.25,31.77 L530.26,31.77 L530.26,41.46 L533.27,41.46 L533.27,48.30 L536.28,48.30 L536.28,59.39 L539.29,59.39 L539.29,72.35 L542.31,72.35 L542.31,90.25 L545.32,90.25 L545.32,109.53 L548.33,109.53 L548.33,129.49 L551.34,129.49 L551.34,150.31 L554.35,150.31 L554.35,168.28 L557.36,168.28 L557.36,179.83 L560.37,179.83 L560.37,187.18 L563.38,187.18 L563.38,199.49 L566.40,199.49 L566.40,212.15 L569.41,212.15 L569.41,221.54 L572.42,221.54 L572.42,228.51 L575.43,228.51 L575.43,233.39 L578.44,233.39 L578.44,236.19 L581.45,236.19 L581.45,240.62 L584.46,240.62 L584.46,243.08 L587.47,243.08 L587.47,245.36 L590.49,245.36 L590.49,247.02 L593.50,247.02 L593.50,248.87 L596.51,248.87 L596.51,249.95 L599.52,249.95 L599.52,250.51 L602.53,250.51 L602.53,251.39 L605.54,251.39 L605.54,252.26 L608.55,252.26 L608.55,253.53 L611.56,253.53 L611.56,252.86 L614.58,252.86 L614.58,253.50 L617.59,253.50 L617.59,254.02 L620.60,254.02 L620.60,254.44 L623.61,254.44 L623.61,254.51 L626.62,254.51 L626.62,254.89 L629.63,254.89 L629.63,254.91 L632.64,254.91 L632.64,254.99 L635.65,254.99 L635.65,255.19 L638.67,255.19 L638.67,255.19 L641.68,255.19 L641.68,255.26 L644.69,255.26 L644.69,255.24 L647.70,255.24 L647.70,255.22 L650.71,255.22 L650.71,255.23 L653.72,255.23 L653.72,255.30 L656.73,255.30 L656.73,255.30 L659.74,255.30 L659.74,255.28 L662.76,255.28 L662.76,255.27 L665.77,255.27 L665.77,255.29 L668.78,255.29 L668.78,255.30 L671.79,255.30 L671.79,255.29 L674.80,255.29 L674.80,255.30 L677.81,255.30 L677.81,255.30 L680.82,255.30" stroke="#1f3cff" stroke-width="1.4"/>
<path d="M379.70,249.04 L379.70,249.04 L382.71,249.04 L382.71,248.84 L385.72,248.84 L385.72,248.85 L388.73,248.85 L388.73,248.93 L391.74,248.93 L391.74,248.95 L394.76,248.95 L394.76,249.14 L397.77,249.14 L397.77,249.60 L400.78,249.60 L400.78,247.38 L403.79,247.38 L403.79,247.65 L406.80,247.65 L406.80,247.90 L409.81,247.90 L409.81,247.35 L412.82,247.35 L412.82,247.51 L415.83,247.51 L415.83,247.20 L418.85,247.20 L418.85,247.60 L421.86,247.60 L421.86,247.10 L424.87,247.10 L424.87,247.30 L427.88,247.30 L427.88,246.74 L430.89,246.74 L430.89,244.59 L433.90,244.59 L433.90,245.32 L436.91,245.32 L436.91,245.24 L439.92,245.24 L439.92,244.93 L442.94,244.93 L442.94,245.21 L445.95,245.21 L445.95,245.05 L448.96,245.05 L448.96,244.67 L451.97,244.67 L451.97,244.56 L454.98,244.56 L454.98,244.37 L457.99,244.37 L457.99,244.64 L461.00,244.64 L461.00,244.45 L464.01,244.45 L464.01,244.77 L467.03,244.77 L467.03,244.62 L470.04,244.62 L470.04,245.67 L473.05,245.67 L473.05,245.51 L476.06,245.51 L476.06,245.01 L479.07,245.01 L479.07,245.32 L482.08,245.32 L482.08,245.06 L485.09,245.06 L485.09,245.07 L488.10,245.07 L488.10,246.04 L491.12,246.04 L491.12,247.07 L494.13,247.07 L494.13,247.11 L497.14,247.11 L497.14,247.40 L500.15,247.40 L500.15,247.59 L503.16,247.59 L503.16,247.68 L506.17,247.68 L506.17,247.71 L509.18,247.71 L509.18,247.91 L512.19,247.91 L512.19,247.88 L515.21,247.88 L515.21,247.87 L518.22,247.87 L518.22,247.88 L521.23,247.88 L521.23,248.00 L524.24,248.00 L524.24,248.30 L527.25,248.30 L527.25,247.94 L530.26,247.94 L530.26,247.88 L533.27,247.88 L533.27,247.71 L536.28,247.71 L536.28,247.81 L539.29,247.81 L539.29,248.04 L542.31,248.04 L542.31,248.05 L545.32,248.05 L545.32,247.52 L548.33,247.52 L548.33,247.76 L551.34,247.76 L551.34,247.55 L554.35,247.55 L554.35,247.49 L557.36,247.49 L557.36,248.05 L560.37,248.05 L560.37,247.82 L563.38,247.82 L563.38,247.80 L566.40,247.80 L566.40,247.78 L569.41,247.78 L569.41,247.78 L572.42,247.78 L572.42,247.84 L575.43,247.84 L575.43,247.84 L578.44,247.84 L578.44,248.16 L581.45,248.16 L581.45,247.90 L584.46,247.90 L584.46,248.01 L587.47,248.01 L587.47,247.83 L590.49,247.83 L590.49,247.88 L593.50,247.88 L593.50,247.58 L596.51,247.58 L596.51,247.98 L599.52,247.98 L599.52,248.39 L602.53,248.39 L602.53,248.46 L605.54,248.46 L605.54,248.58 L608.55,248.58 L608.55,248.75 L611.56,248.75 L611.56,248.77 L614.58,248.77 L614.58,248.90 L617.59,248.90 L617.59,248.82 L620.60,248.82 L620.60,248.93 L623.61,248.93 L623.61,248.86 L626.62,248.86 L626.62,249.23 L629.63,249.23 L629.63,248.87 L632.64,248.87 L632.64,249.20 L635.65,249.20 L635.65,249.22 L638.67,249.22 L638.67,249.16 L641.68,249.16 L641.68,249.26 L644.69,249.26 L644.69,249.14 L647.70,249.14 L647.70,249.32 L650.71,249.32 L650.71,249.42 L653.72,249.42 L653.72,249.39 L656.73,249.39 L656.73,249.03 L659.74,249.03 L659.74,249.25 L662.76,249.25 L662.76,249.47 L665.77,249.47 L665.77,249.28 L668.78,249.28 L668.78,249.55 L671.79,249.55 L671.79,248.98 L674.80,248.98 L674.80,249.56 L677.81,249.56 L677.81,249.23 L680.82,249.23" transform="translate(0,0.9)" stroke="#e8322a" stroke-width="1.2"/>
<path d="M379.70,249.04 L379.70,249.04 L382.71,249.04 L382.71,248.81 L385.72,248.81 L385.72,248.83 L388.73,248.83 L388.73,248.93 L391.74,248.93 L391.74,248.95 L394.76,248.95 L394.76,249.14 L397.77,249.14 L397.77,249.58 L400.78,249.58 L400.78,247.37 L403.79,247.37 L403.79,247.61 L406.80,247.61 L406.80,247.90 L409.81,247.90 L409.81,247.27 L412.82,247.27 L412.82,247.45 L415.83,247.45 L415.83,247.09 L418.85,247.09 L418.85,247.48 L421.86,247.48 L421.86,246.95 L424.87,246.95 L424.87,247.04 L427.88,247.04 L427.88,245.54 L430.89,245.54 L430.89,243.72 L433.90,243.72 L433.90,243.76 L436.91,243.76 L436.91,243.57 L439.92,243.57 L439.92,243.09 L442.94,243.09 L442.94,242.92 L445.95,242.92 L445.95,241.87 L448.96,241.87 L448.96,241.23 L451.97,241.23 L451.97,240.30 L454.98,240.30 L454.98,238.35 L457.99,238.35 L457.99,236.56 L461.00,236.56 L461.00,234.75 L464.01,234.75 L464.01,233.26 L467.03,233.26 L467.03,230.45 L470.04,230.45 L470.04,228.31 L473.05,228.31 L473.05,225.99 L476.06,225.99 L476.06,221.13 L479.07,221.13 L479.07,215.17 L482.08,215.17 L482.08,207.50 L485.09,207.50 L485.09,199.47 L488.10,199.47 L488.10,190.94 L491.12,190.94 L491.12,181.30 L494.13,181.30 L494.13,171.54 L497.14,171.54 L497.14,154.65 L500.15,154.65 L500.15,140.99 L503.16,140.99 L503.16,124.03 L506.17,124.03 L506.17,107.55 L509.18,107.55 L509.18,94.54 L512.19,94.54 L512.19,73.59 L515.21,73.59 L515.21,55.62 L518.22,55.62 L518.22,43.12 L521.23,43.12 L521.23,37.60 L524.24,37.60 L524.24,33.80 L527.25,33.80 L527.25,24.41 L530.26,24.41 L530.26,34.04 L533.27,34.04 L533.27,40.71 L536.28,40.71 L536.28,51.89 L539.29,51.89 L539.29,65.09 L542.31,65.09 L542.31,83.00 L545.32,83.00 L545.32,101.76 L548.33,101.76 L548.33,121.95 L551.34,121.95 L551.34,142.56 L554.35,142.56 L554.35,160.46 L557.36,160.46 L557.36,172.58 L560.37,172.58 L560.37,179.69 L563.38,179.69 L563.38,191.99 L566.40,191.99 L566.40,204.63 L569.41,204.63 L569.41,214.02 L572.42,214.02 L572.42,221.05 L575.43,221.05 L575.43,225.93 L578.44,225.93 L578.44,229.05 L581.45,229.05 L581.45,233.22 L584.46,233.22 L584.46,235.78 L587.47,235.78 L587.47,237.89 L590.49,237.89 L590.49,239.60 L593.50,239.60 L593.50,241.15 L596.51,241.15 L596.51,242.63 L599.52,242.63 L599.52,243.60 L602.53,243.60 L602.53,244.55 L605.54,244.55 L605.54,245.53 L608.55,245.53 L608.55,246.98 L611.56,246.98 L611.56,246.33 L614.58,246.33 L614.58,247.11 L617.59,247.11 L617.59,247.54 L620.60,247.54 L620.60,248.07 L623.61,248.07 L623.61,248.07 L626.62,248.07 L626.62,248.82 L629.63,248.82 L629.63,248.48 L632.64,248.48 L632.64,248.88 L635.65,248.88 L635.65,249.11 L638.67,249.11 L638.67,249.05 L641.68,249.05 L641.68,249.22 L644.69,249.22 L644.69,249.08 L647.70,249.08 L647.70,249.25 L650.71,249.25 L650.71,249.35 L653.72,249.35 L653.72,249.39 L656.73,249.39 L656.73,249.03 L659.74,249.03 L659.74,249.23 L662.76,249.23 L662.76,249.44 L665.77,249.44 L665.77,249.27 L668.78,249.27 L668.78,249.55 L671.79,249.55 L671.79,248.98 L674.80,248.98 L674.80,249.56 L677.81,249.56 L677.81,249.23 L680.82,249.23" stroke="#1a1a1a" stroke-width="1.2"/>
</g>
<rect x="379.5" y="12.5" width="301.0" height="243.0" fill="none" stroke="#1a1a1a" stroke-width="1"/>
<g stroke="#444" stroke-width="0.85">
<line x1="379.5" y1="255.30" x2="383.0" y2="255.30"/>
<line x1="680.5" y1="255.30" x2="677.0" y2="255.30"/>
<line x1="379.5" y1="214.85" x2="383.0" y2="214.85"/>
<line x1="680.5" y1="214.85" x2="677.0" y2="214.85"/>
<line x1="379.5" y1="174.40" x2="383.0" y2="174.40"/>
<line x1="680.5" y1="174.40" x2="677.0" y2="174.40"/>
<line x1="379.5" y1="133.95" x2="383.0" y2="133.95"/>
<line x1="680.5" y1="133.95" x2="677.0" y2="133.95"/>
<line x1="379.5" y1="93.50" x2="383.0" y2="93.50"/>
<line x1="680.5" y1="93.50" x2="677.0" y2="93.50"/>
<line x1="379.5" y1="53.05" x2="383.0" y2="53.05"/>
<line x1="680.5" y1="53.05" x2="677.0" y2="53.05"/>
<line x1="379.5" y1="12.60" x2="383.0" y2="12.60"/>
<line x1="680.5" y1="12.60" x2="677.0" y2="12.60"/>
<line x1="379.70" y1="255.5" x2="379.70" y2="252.0"/>
<line x1="379.70" y1="12.5" x2="379.70" y2="16.0"/>
<line x1="413.53" y1="255.5" x2="413.53" y2="252.0"/>
<line x1="413.53" y1="12.5" x2="413.53" y2="16.0"/>
<line x1="447.37" y1="255.5" x2="447.37" y2="252.0"/>
<line x1="447.37" y1="12.5" x2="447.37" y2="16.0"/>
<line x1="481.20" y1="255.5" x2="481.20" y2="252.0"/>
<line x1="481.20" y1="12.5" x2="481.20" y2="16.0"/>
<line x1="515.04" y1="255.5" x2="515.04" y2="252.0"/>
<line x1="515.04" y1="12.5" x2="515.04" y2="16.0"/>
<line x1="548.87" y1="255.5" x2="548.87" y2="252.0"/>
<line x1="548.87" y1="12.5" x2="548.87" y2="16.0"/>
<line x1="582.70" y1="255.5" x2="582.70" y2="252.0"/>
<line x1="582.70" y1="12.5" x2="582.70" y2="16.0"/>
<line x1="616.54" y1="255.5" x2="616.54" y2="252.0"/>
<line x1="616.54" y1="12.5" x2="616.54" y2="16.0"/>
<line x1="650.37" y1="255.5" x2="650.37" y2="252.0"/>
<line x1="650.37" y1="12.5" x2="650.37" y2="16.0"/>
</g>
<g font-family='"Liberation Sans", sans-serif' font-size="12.2" fill="#1a1a1a" letter-spacing="0.7">
<text x="379.0" y="258.65" text-anchor="end">0</text>
<text x="379.0" y="218.20" text-anchor="end">1</text>
<text x="379.0" y="177.75" text-anchor="end">2</text>
<text x="379.0" y="137.30" text-anchor="end">3</text>
<text x="379.0" y="96.85" text-anchor="end">4</text>
<text x="379.0" y="56.40" text-anchor="end">5</text>
<text x="379.0" y="15.95" text-anchor="end">6</text>
<text x="380.60" y="266.9" text-anchor="middle">460</text>
<text x="414.43" y="266.9" text-anchor="middle">480</text>
<text x="448.27" y="266.9" text-anchor="middle">500</text>
<text x="482.10" y="266.9" text-anchor="middle">520</text>
<text x="515.94" y="266.9" text-anchor="middle">540</text>
<text x="549.77" y="266.9" text-anchor="middle">560</text>
<text x="583.60" y="266.9" text-anchor="middle">580</text>
<text x="617.44" y="266.9" text-anchor="middle">600</text>
<text x="651.27" y="266.9" text-anchor="middle">620</text>
</g>
<text x="379.85" y="10.2" font-family='"Liberation Sans", sans-serif' font-size="10.8" fill="#1a1a1a">1e3</text>
<text x="391.3" y="71.2" font-family='"Liberation Serif", serif' font-weight="bold" font-size="28" fill="#000">b</text>
<line x1="562" y1="27.1" x2="578.8" y2="27.1" stroke="#333" stroke-width="1.5"/>
<line x1="562" y1="43.8" x2="578.8" y2="43.8" stroke="#1f3cff" stroke-width="1.5"/>
<line x1="562" y1="60.8" x2="578.8" y2="60.8" stroke="#e85050" stroke-width="1.2"/>
<g font-family='"Liberation Sans", sans-serif' font-size="13.8" fill="#1a1a1a">
<text x="586.8" y="31">Data</text>
<text x="586.8" y="48">Data × Q</text>
<text x="586.8" y="65">Data × (1-Q)</text>
</g>
</svg>
</body></html>
